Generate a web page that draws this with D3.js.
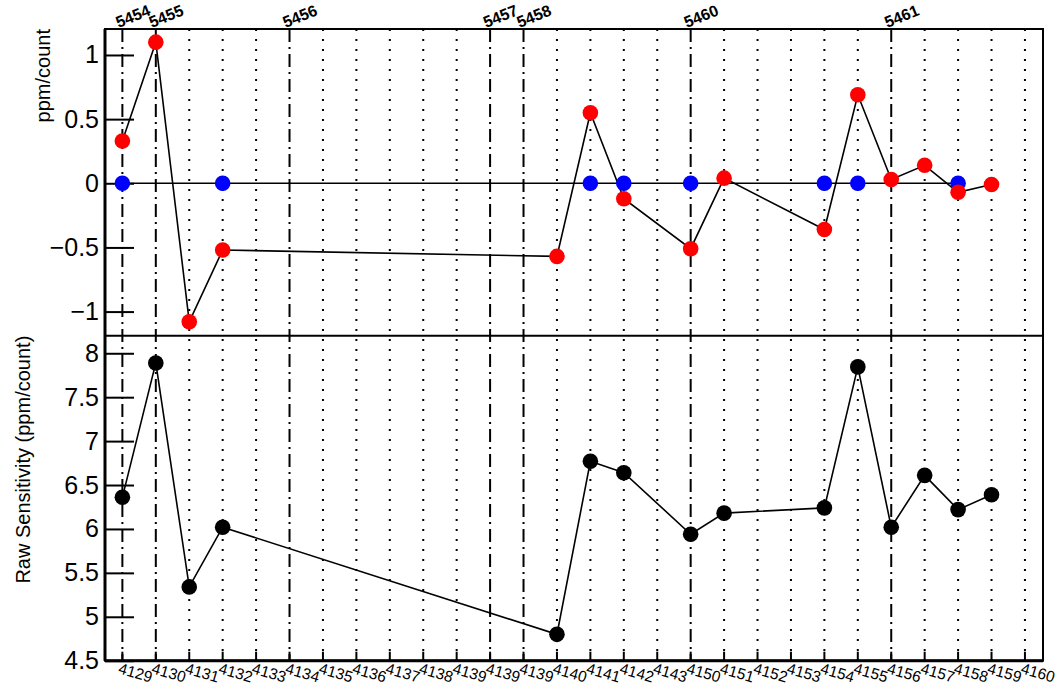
<!DOCTYPE html>
<html><head><meta charset="utf-8">
<script src="https://cdn.jsdelivr.net/npm/d3@7"></script>
<style>body{margin:0;background:#fff}svg{display:block}text{font-family:"Liberation Sans",Arial,sans-serif}</style>
</head><body>
<svg id="c" width="1058" height="687"></svg>
<script>
// ---- data ----
const xLabels = ["4129","4130","4131","4132","4133","4134","4135","4136","4137","4138","4139","4139","4139","4140","4141","4142","4143","4150","4151","4152","4153","4154","4155","4156","4157","4158","4159","4160"];
const runLabels = ["5454","5455","5456","5457","5458","5460","5461"];
const runPos = [0,1,5,11,12,17,23];
const pointPos = [0,1,2,3,13,14,15,17,18,21,22,23,24,25,26];
const redValues = [0.33,1.10,-1.08,-0.52,-0.57,0.55,-0.12,-0.51,0.04,-0.36,0.69,0.03,0.14,-0.07,-0.01];
const bluePos = [0,3,14,15,17,21,22,25];
const blueValues = [0,0,0,0,0,0,0,0];
const rawValues = [6.36,7.89,5.34,6.02,4.80,6.77,6.64,5.94,6.18,6.24,7.845,6.02,6.61,6.22,6.39];
const topTicks = [-1,-0.5,0,0.5,1];
const botTicks = [4.5,5,5.5,6,6.5,7,7.5,8];

// ---- layout ----
const L=105,R=1043,T=29,M=335.7,B=660.7;
const svg=d3.select("#c");
const x=d3.scaleLinear().domain([-0.52,27.54]).range([L,R]);
const yTop=d3.scaleLinear().domain([-1.188,1.2025]).range([M,T]);
const yBot=d3.scaleLinear().domain([4.5,8.2]).range([B,M]);
const fmt=d3.format("~g");

// grid lines
const runSet=new Set(runPos);
svg.append("g").selectAll("line").data(xLabels.map((d,i)=>i)).join("line")
  .attr("x1",i=>x(i)).attr("x2",i=>x(i)).attr("y1",T).attr("y2",B)
  .attr("stroke","#000").attr("stroke-width",2)
  .attr("stroke-dasharray",i=>runSet.has(i)?"13,5,2,5":"2,8");

// y axes
function yAxis(scale,major,minorDomain){
  const g=svg.append("g").attr("transform",`translate(${L},0)`);
  const minor=d3.range(Math.ceil(minorDomain[0]*10),Math.floor(minorDomain[1]*10)+1).map(v=>v/10);
  g.call(d3.axisLeft(scale).tickValues(minor).tickSize(-13).tickFormat(""));
  g.call(d3.axisLeft(scale).tickValues(major).tickSizeInner(-29).tickSizeOuter(0).tickPadding(6).tickFormat(fmt));
  g.selectAll(".domain").remove();
  g.selectAll("line").attr("stroke","#000").attr("stroke-width",2);
  g.selectAll("text").attr("font-size",25).attr("fill","#000").attr("font-family","Liberation Sans, Arial, sans-serif");
}
yAxis(yTop,topTicks,yTop.domain());
yAxis(yBot,botTicks,yBot.domain());

// bottom x ticks
svg.append("g").selectAll("line").data(xLabels.map((d,i)=>i)).join("line")
  .attr("x1",i=>x(i)).attr("x2",i=>x(i)).attr("y1",B).attr("y2",B-9)
  .attr("stroke","#000").attr("stroke-width",2);

// frame
svg.append("rect").attr("x",L).attr("y",T).attr("width",R-L).attr("height",B-T).attr("fill","none").attr("stroke","#000").attr("stroke-width",2);
svg.append("line").attr("x1",L).attr("x2",R).attr("y1",M).attr("y2",M).attr("stroke","#000").attr("stroke-width",2);
svg.append("line").attr("x1",L).attr("x2",L).attr("y1",T).attr("y2",B).attr("stroke","#000").attr("stroke-width",3);
svg.append("line").attr("x1",L).attr("x2",R).attr("y1",B).attr("y2",B).attr("stroke","#000").attr("stroke-width",3);

// top: blue graph line + points, red graph
const line=(ys)=>d3.line().x(d=>x(d[0])).y(d=>ys(d[1]));
const blueData=bluePos.map((p,i)=>[p,blueValues[i]]);
const redData=pointPos.map((p,i)=>[p,redValues[i]]);
const rawData=pointPos.map((p,i)=>[p,rawValues[i]]);
svg.append("path").datum(blueData).attr("d",line(yTop)).attr("fill","none").attr("stroke","#000").attr("stroke-width",1.6);
svg.append("path").datum(redData).attr("d",line(yTop)).attr("fill","none").attr("stroke","#000").attr("stroke-width",1.6);
svg.append("g").selectAll("circle").data(blueData).join("circle").attr("cx",d=>x(d[0])).attr("cy",d=>yTop(d[1])).attr("r",7.8).attr("fill","#0000ff");
svg.append("g").selectAll("circle").data(redData).join("circle").attr("cx",d=>x(d[0])).attr("cy",d=>yTop(d[1])).attr("r",7.8).attr("fill","#ff0000");

// bottom: raw sensitivity
svg.append("path").datum(rawData).attr("d",line(yBot)).attr("fill","none").attr("stroke","#000").attr("stroke-width",1.6);
svg.append("g").selectAll("circle").data(rawData).join("circle").attr("cx",d=>x(d[0])).attr("cy",d=>yBot(d[1])).attr("r",7.8).attr("fill","#000");

// run labels (top)
svg.append("g").selectAll("text").data(runLabels).join("text")
  .attr("transform",(d,i)=>`translate(${x(runPos[i])-4},28) rotate(-22)`)
  .attr("font-size",16).attr("font-weight","bold").attr("fill","#000").text(d=>d);

// x labels (bottom)
svg.append("g").selectAll("text").data(xLabels).join("text")
  .attr("transform",(d,i)=>`translate(${x(i)-5},673) rotate(16)`)
  .attr("font-size",15.5).attr("fill","#000").text(d=>d);

// axis titles
svg.append("text").attr("transform",`translate(50,${T}) rotate(-90)`).attr("text-anchor","end")
  .attr("font-size",20).attr("fill","#000").text("ppm/count");
svg.append("text").attr("transform",`translate(30,${M}) rotate(-90)`).attr("text-anchor","end")
  .attr("font-size",20).attr("fill","#000").text("Raw Sensitivity (ppm/count)");
</script>
</body></html>
